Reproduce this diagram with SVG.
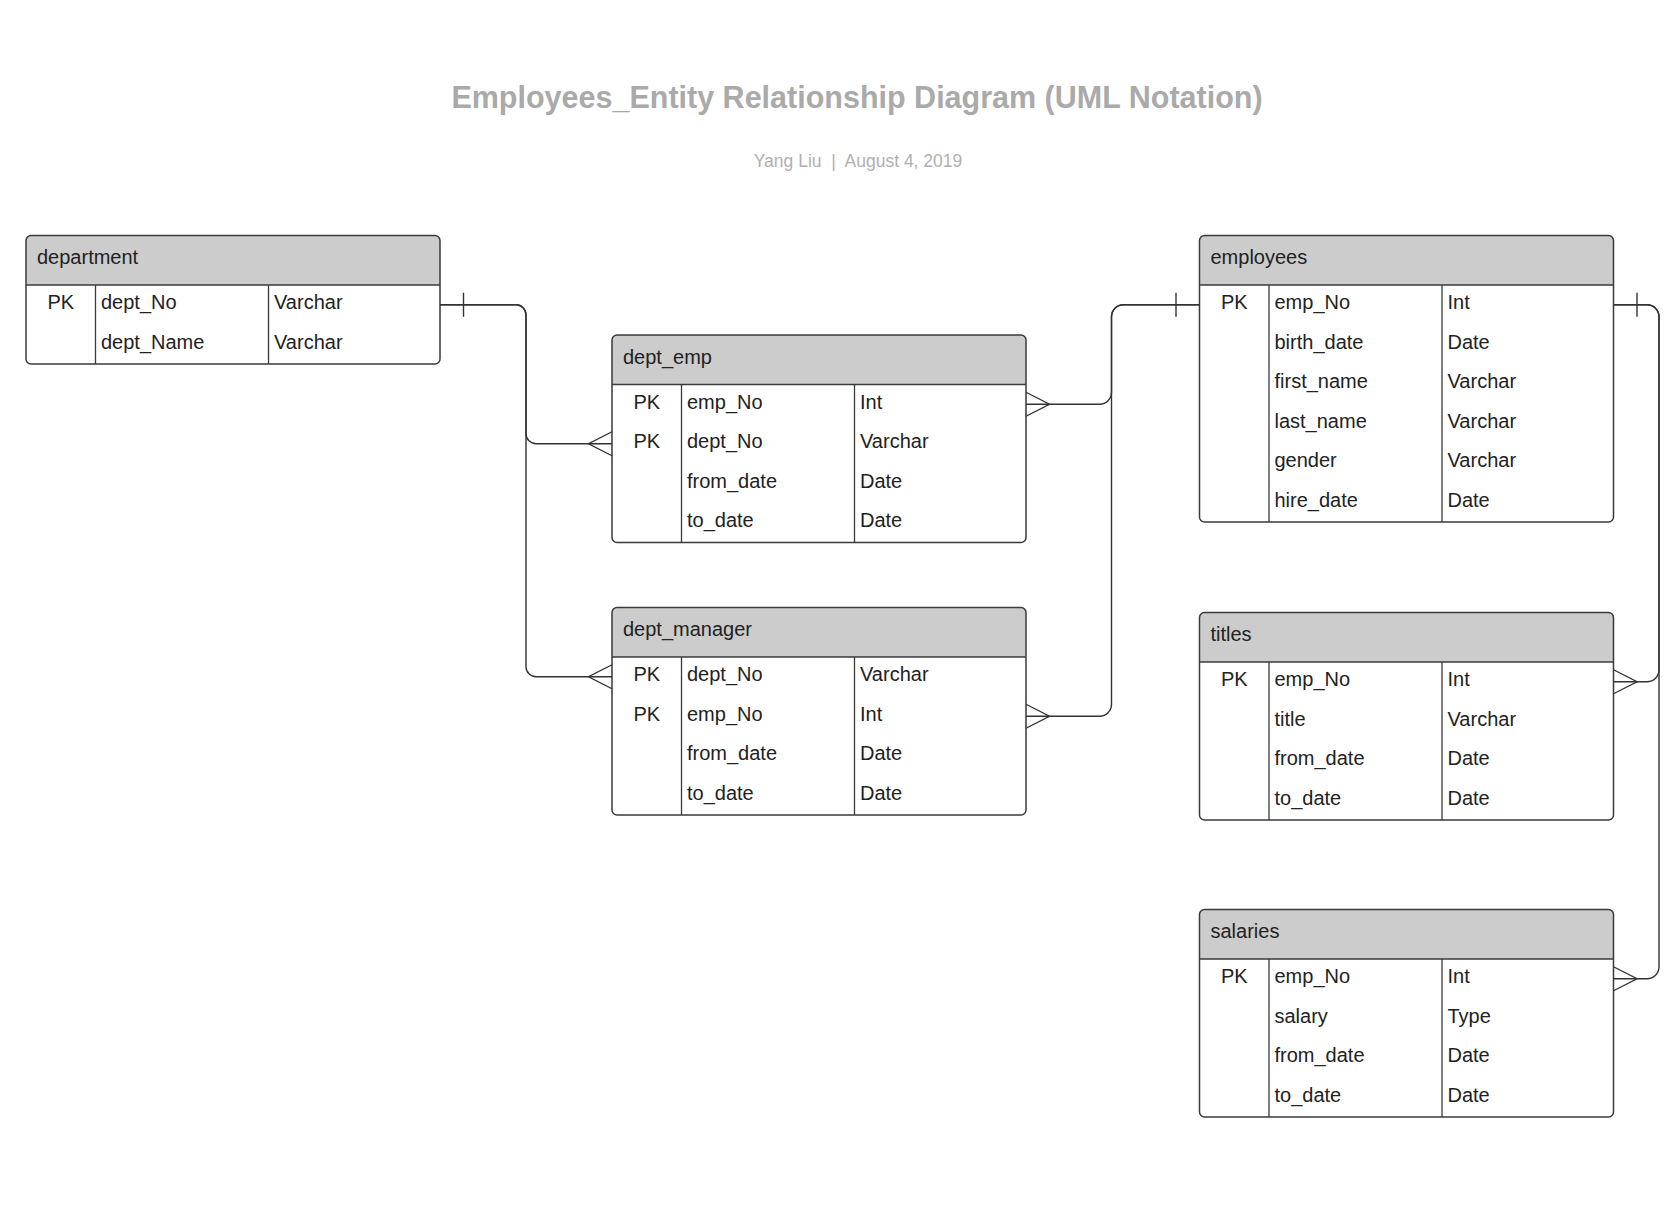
<svg xmlns="http://www.w3.org/2000/svg" width="1679" height="1220" viewBox="0 0 1679 1220">
<style>
.title{font-family:"Liberation Sans",Arial,sans-serif;font-weight:bold;font-size:30.5px;fill:#aaaaaa}
.sub{font-family:"Liberation Sans",Arial,sans-serif;font-size:17.5px;fill:#b0b0b0}
.hdr{fill:#cccccc}
.box{fill:none;stroke:#3a3a3a;stroke-width:1.5}
.ln{stroke:#3a3a3a;stroke-width:1.3;fill:none}
.t{font-family:"Liberation Sans",Arial,sans-serif;font-size:20px;fill:#222}
.pk{text-anchor:middle}
.conn path{fill:none;stroke:#333;stroke-width:1.4}
</style>
<rect width="1679" height="1220" fill="#ffffff"/>
<text class="title" x="857" y="108" text-anchor="middle">Employees_Entity Relationship Diagram (UML Notation)</text>
<text class="sub" x="858" y="167" text-anchor="middle" xml:space="preserve">Yang Liu  |  August 4, 2019</text>

<g id="department" transform="translate(26,235.5)">
<rect x="0" y="0" width="414" height="128.5" rx="5" fill="#fff"/>
<path class="hdr" d="M0,49.5 V5 A5 5 0 0 1 5,0 H409 A5 5 0 0 1 414,5 V49.5 Z"/>
<line class="ln" x1="0" y1="49.5" x2="414" y2="49.5"/>
<line class="ln" x1="69.5" y1="49.5" x2="69.5" y2="128.5"/>
<line class="ln" x1="242.5" y1="49.5" x2="242.5" y2="128.5"/>
<rect class="box" x="0" y="0" width="414" height="128.5" rx="5"/>
<text class="t" x="11" y="28.5">department</text>
<text class="t pk" x="34.75" y="73.5">PK</text>
<text class="t" x="75" y="73.5">dept_No</text>
<text class="t" x="248" y="73.5">Varchar</text>
<text class="t" x="75" y="113">dept_Name</text>
<text class="t" x="248" y="113">Varchar</text>
</g>

<g id="dept_emp" transform="translate(612,335)">
<rect x="0" y="0" width="414" height="207.5" rx="5" fill="#fff"/>
<path class="hdr" d="M0,49.5 V5 A5 5 0 0 1 5,0 H409 A5 5 0 0 1 414,5 V49.5 Z"/>
<line class="ln" x1="0" y1="49.5" x2="414" y2="49.5"/>
<line class="ln" x1="69.5" y1="49.5" x2="69.5" y2="207.5"/>
<line class="ln" x1="242.5" y1="49.5" x2="242.5" y2="207.5"/>
<rect class="box" x="0" y="0" width="414" height="207.5" rx="5"/>
<text class="t" x="11" y="28.5">dept_emp</text>
<text class="t pk" x="34.75" y="73.5">PK</text>
<text class="t" x="75" y="73.5">emp_No</text>
<text class="t" x="248" y="73.5">Int</text>
<text class="t pk" x="34.75" y="113">PK</text>
<text class="t" x="75" y="113">dept_No</text>
<text class="t" x="248" y="113">Varchar</text>
<text class="t" x="75" y="152.5">from_date</text>
<text class="t" x="248" y="152.5">Date</text>
<text class="t" x="75" y="192">to_date</text>
<text class="t" x="248" y="192">Date</text>
</g>

<g id="dept_manager" transform="translate(612,607.5)">
<rect x="0" y="0" width="414" height="207.5" rx="5" fill="#fff"/>
<path class="hdr" d="M0,49.5 V5 A5 5 0 0 1 5,0 H409 A5 5 0 0 1 414,5 V49.5 Z"/>
<line class="ln" x1="0" y1="49.5" x2="414" y2="49.5"/>
<line class="ln" x1="69.5" y1="49.5" x2="69.5" y2="207.5"/>
<line class="ln" x1="242.5" y1="49.5" x2="242.5" y2="207.5"/>
<rect class="box" x="0" y="0" width="414" height="207.5" rx="5"/>
<text class="t" x="11" y="28.5">dept_manager</text>
<text class="t pk" x="34.75" y="73.5">PK</text>
<text class="t" x="75" y="73.5">dept_No</text>
<text class="t" x="248" y="73.5">Varchar</text>
<text class="t pk" x="34.75" y="113">PK</text>
<text class="t" x="75" y="113">emp_No</text>
<text class="t" x="248" y="113">Int</text>
<text class="t" x="75" y="152.5">from_date</text>
<text class="t" x="248" y="152.5">Date</text>
<text class="t" x="75" y="192">to_date</text>
<text class="t" x="248" y="192">Date</text>
</g>

<g id="employees" transform="translate(1199.5,235.5)">
<rect x="0" y="0" width="414" height="286.5" rx="5" fill="#fff"/>
<path class="hdr" d="M0,49.5 V5 A5 5 0 0 1 5,0 H409 A5 5 0 0 1 414,5 V49.5 Z"/>
<line class="ln" x1="0" y1="49.5" x2="414" y2="49.5"/>
<line class="ln" x1="69.5" y1="49.5" x2="69.5" y2="286.5"/>
<line class="ln" x1="242.5" y1="49.5" x2="242.5" y2="286.5"/>
<rect class="box" x="0" y="0" width="414" height="286.5" rx="5"/>
<text class="t" x="11" y="28.5">employees</text>
<text class="t pk" x="34.75" y="73.5">PK</text>
<text class="t" x="75" y="73.5">emp_No</text>
<text class="t" x="248" y="73.5">Int</text>
<text class="t" x="75" y="113">birth_date</text>
<text class="t" x="248" y="113">Date</text>
<text class="t" x="75" y="152.5">first_name</text>
<text class="t" x="248" y="152.5">Varchar</text>
<text class="t" x="75" y="192">last_name</text>
<text class="t" x="248" y="192">Varchar</text>
<text class="t" x="75" y="231.5">gender</text>
<text class="t" x="248" y="231.5">Varchar</text>
<text class="t" x="75" y="271">hire_date</text>
<text class="t" x="248" y="271">Date</text>
</g>

<g id="titles" transform="translate(1199.5,612.5)">
<rect x="0" y="0" width="414" height="207.5" rx="5" fill="#fff"/>
<path class="hdr" d="M0,49.5 V5 A5 5 0 0 1 5,0 H409 A5 5 0 0 1 414,5 V49.5 Z"/>
<line class="ln" x1="0" y1="49.5" x2="414" y2="49.5"/>
<line class="ln" x1="69.5" y1="49.5" x2="69.5" y2="207.5"/>
<line class="ln" x1="242.5" y1="49.5" x2="242.5" y2="207.5"/>
<rect class="box" x="0" y="0" width="414" height="207.5" rx="5"/>
<text class="t" x="11" y="28.5">titles</text>
<text class="t pk" x="34.75" y="73.5">PK</text>
<text class="t" x="75" y="73.5">emp_No</text>
<text class="t" x="248" y="73.5">Int</text>
<text class="t" x="75" y="113">title</text>
<text class="t" x="248" y="113">Varchar</text>
<text class="t" x="75" y="152.5">from_date</text>
<text class="t" x="248" y="152.5">Date</text>
<text class="t" x="75" y="192">to_date</text>
<text class="t" x="248" y="192">Date</text>
</g>

<g id="salaries" transform="translate(1199.5,909.5)">
<rect x="0" y="0" width="414" height="207.5" rx="5" fill="#fff"/>
<path class="hdr" d="M0,49.5 V5 A5 5 0 0 1 5,0 H409 A5 5 0 0 1 414,5 V49.5 Z"/>
<line class="ln" x1="0" y1="49.5" x2="414" y2="49.5"/>
<line class="ln" x1="69.5" y1="49.5" x2="69.5" y2="207.5"/>
<line class="ln" x1="242.5" y1="49.5" x2="242.5" y2="207.5"/>
<rect class="box" x="0" y="0" width="414" height="207.5" rx="5"/>
<text class="t" x="11" y="28.5">salaries</text>
<text class="t pk" x="34.75" y="73.5">PK</text>
<text class="t" x="75" y="73.5">emp_No</text>
<text class="t" x="248" y="73.5">Int</text>
<text class="t" x="75" y="113">salary</text>
<text class="t" x="248" y="113">Type</text>
<text class="t" x="75" y="152.5">from_date</text>
<text class="t" x="248" y="152.5">Date</text>
<text class="t" x="75" y="192">to_date</text>
<text class="t" x="248" y="192">Date</text>
</g>

<g id="connectors" class="conn">
<path d="M440,304.75 H516 A10 10 0 0 1 526,314.75 V433.75 A10 10 0 0 0 536,443.75 H612"/>
<path d="M440,304.75 H516 A10 10 0 0 1 526,314.75 V666.75 A10 10 0 0 0 536,676.75 H612"/>
<path d="M463.5,292.75 V316.75"/>
<path d="M612,431.75 L588.5,443.75 L612,455.75"/>
<path d="M612,664.75 L588.5,676.75 L612,688.75"/>

<path d="M1199.5,304.75 H1123.5 A12 12 0 0 0 1111.5,316.75 V392.25 A12 12 0 0 1 1099.5,404.25 H1026"/>
<path d="M1199.5,304.75 H1123.5 A12 12 0 0 0 1111.5,316.75 V704.25 A12 12 0 0 1 1099.5,716.25 H1026"/>
<path d="M1176,292.75 V316.75"/>
<path d="M1026,392.25 L1049.5,404.25 L1026,416.25"/>
<path d="M1026,704.25 L1049.5,716.25 L1026,728.25"/>

<path d="M1613.5,304.75 H1647 A12 12 0 0 1 1659,316.75 V669.75 A12 12 0 0 1 1647,681.75 H1613.5"/>
<path d="M1613.5,304.75 H1647 A12 12 0 0 1 1659,316.75 V966.75 A12 12 0 0 1 1647,978.75 H1613.5"/>
<path d="M1637,292.75 V316.75"/>
<path d="M1613.5,669.75 L1637,681.75 L1613.5,693.75"/>
<path d="M1613.5,966.75 L1637,978.75 L1613.5,990.75"/>
</g>
</svg>
